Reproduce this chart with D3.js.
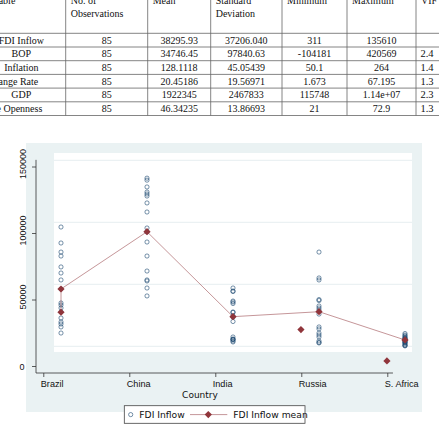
<!DOCTYPE html>
<html>
<head>
<meta charset="utf-8">
<script src="https://cdn.jsdelivr.net/npm/d3@7"></script>
<style>
  body { margin: 0; background: #fff; }
  svg { display: block; }
</style>
</head>
<body>
<div id="wrapper"></div>
<script>
// ---- table data (descriptive statistics) ----
const tableHeaders = [["Variable"], ["No. of", "Observations"], ["Mean"], ["Standard", "Deviation"], ["Minimum"], ["Maximum"], ["VIF"]]
const variables = ["FDI Inflow", "BOP", "Inflation", "Exchange Rate", "GDP", "Trade Openness"]
const obsCol = ["85", "85", "85", "85", "85", "85"]
const meanCol = ["38295.93", "34746.45", "128.1118", "20.45186", "1922345", "46.34235"]
const sdCol = ["37206.040", "97840.63", "45.05439", "19.56971", "2467833", "13.86693"]
const minCol = ["311", "-104181", "50.1", "1.673", "115748", "21"]
const maxCol = ["135610", "420569", "264", "67.195", "1.14e+07", "72.9"]
const vifCol = ["", "2.4", "1.4", "1.3", "2.3", "1.3"]

// ---- chart data (FDI inflow by country, 17 years each) ----
const countries = ["Brazil", "China", "India", "Russia", "S. Africa"]
const fdiBrazil = [96200, 83300, 76000, 72800, 64000, 59100, 53500, 46200, 34900, 33300, 30900, 27700, 22800, 19600, 18000, 15600, 10700]
const fdiChina = [135610, 134000, 128500, 124400, 122800, 121200, 115600, 108300, 95400, 92200, 84100, 72800, 60700, 53500, 52700, 47000, 40600]
const fdiIndia = [47000, 44600, 44200, 36500, 35700, 34500, 27700, 27300, 24400, 23600, 20000, 7500, 5900, 5500, 5500, 4300, 3500]
const fdiRussia = [76000, 55100, 53500, 37700, 36900, 32500, 30900, 29300, 26000, 15600, 14000, 10700, 9100, 7500, 4300, 3100, 2700]
const fdiSAfrica = [10300, 9100, 8300, 7500, 6700, 6300, 5900, 5100, 4700, 4300, 3500, 3100, 2700, 1900, 1000, 650, 311]
const fdiMean = [46200, 92400, 23900, 27900, 5100]
// stray mean markers drawn on the axis scale
const extraPos = [0, 2.79, 3.79]
const extraMean = [40400, 27400, 3800]
const yTicks = [0, 50000, 100000, 150000]

const fdiByCountry = [fdiBrazil, fdiChina, fdiIndia, fdiRussia, fdiSAfrica]

const width = 439
const height = 428

const svg = d3.select("#wrapper")
  .append("svg")
    .attr("width", width)
    .attr("height", height)

// ================= table =================
const colEdges = [-23, 65.7, 147.7, 210.7, 282, 347, 416, 470]
const rowScale = d3.scaleBand()
  .domain(variables)
  .range([33.3, 115.5])

const table = svg.append("g")
  .style("font-family", "'Liberation Serif', 'Times New Roman', serif")
  .style("font-size", "10px")
  .attr("fill", "#111")

// horizontal rules
table.selectAll("line.h")
  .data([33.3, ...variables.map(v => rowScale(v) + rowScale.bandwidth())])
  .join("line")
    .attr("x1", 0).attr("x2", width)
    .attr("y1", d => d).attr("y2", d => d)
    .attr("stroke", "#666")
    .attr("stroke-width", 0.8)

// vertical rules
table.selectAll("line.v")
  .data(colEdges.slice(1, 7))
  .join("line")
    .attr("x1", d => d).attr("x2", d => d)
    .attr("y1", -2).attr("y2", 115.5)
    .attr("stroke", "#666")
    .attr("stroke-width", 0.8)

// header (left aligned in each cell)
tableHeaders.forEach((lines, i) => {
  lines.forEach((t, j) => {
    table.append("text")
      .attr("x", colEdges[i] + 5)
      .attr("y", 4 + j * 13)
      .text(t)
  })
})

// first column labels
const rowAnchor = ["middle", "middle", "middle", "start", "middle", "start"]
table.selectAll("text.label")
  .data(variables)
  .join("text")
    .attr("x", (d, i) => rowAnchor[i] == "middle" ? (colEdges[0] + colEdges[1]) / 2 : colEdges[0] + 1)
    .attr("y", d => rowScale(d) + rowScale.bandwidth() / 2 + 3.5)
    .attr("text-anchor", (d, i) => rowAnchor[i])
    .text(d => d)

const valueCols = [obsCol, meanCol, sdCol, minCol, maxCol, vifCol]
valueCols.forEach((col, c) => {
  const cx = c == 5 ? colEdges[6] + 11 : (colEdges[c + 1] + colEdges[c + 2]) / 2
  table.selectAll(null)
    .data(col)
    .join("text")
      .attr("x", cx)
      .attr("y", (d, i) => rowScale(variables[i]) + rowScale.bandwidth() / 2 + 3.5)
      .attr("text-anchor", "middle")
      .style("font-size", c == 5 ? "10.5px" : null)
      .text(d => d)
})

// ================= chart =================
const chart = svg.append("g")
  .style("font-family", "'DejaVu Sans', sans-serif")

// graph region and plot region
chart.append("rect")
  .attr("x", 26).attr("y", 143)
  .attr("width", 396).attr("height", 269)
  .attr("fill", "#eaf2f3")

chart.append("rect")
  .attr("x", 54).attr("y", 153)
  .attr("width", 358).attr("height", 199)
  .attr("fill", "#fff")

// scales
const xScale = d3.scaleLinear()
  .domain([0, countries.length - 1])
  .range([61, 405])
const tickShift = -0.206

// the observations are drawn on the white plot region scale
const yScale = d3.scaleLinear()
  .domain([0, 150000])
  .range([346.3, 160.3])

// the axis carries its own (slightly larger) scale
const yAxisScale = d3.scaleLinear()
  .domain([0, 150000])
  .range([366, 166.5])

// gridlines
chart.selectAll("line.grid")
  .data(yTicks)
  .join("line")
    .attr("x1", 54).attr("x2", 412)
    .attr("y1", d => yScale(d)).attr("y2", d => yScale(d))
    .attr("stroke", "#e6eef0")
    .attr("stroke-width", 1)

// axes
const axisX0 = 36
const axisY0 = 373

const yAxis = chart.append("g")
  .attr("transform", `translate(${axisX0},0)`)
  .call(d3.axisLeft(yAxisScale).tickValues(yTicks).tickSize(4).tickFormat(d3.format("d")))
yAxis.select(".domain").remove()
yAxis.selectAll(".tick line").attr("stroke", "#333").attr("stroke-width", 0.8)
yAxis.selectAll(".tick text")
  .attr("fill", "#111")
  .style("font-size", "9px")
  .attr("x", null).attr("dy", null)
  .attr("text-anchor", "middle")
  .attr("transform", d => d == 0 ? "translate(-14,3)" : "translate(-10,-3) rotate(-90)")

chart.append("line")
  .attr("x1", axisX0).attr("x2", axisX0)
  .attr("y1", yAxisScale(155000)).attr("y2", axisY0)
  .attr("stroke", "#333").attr("stroke-width", 0.8)

const xAxis = chart.append("g")
  .attr("transform", `translate(0,${axisY0})`)
  .call(d3.axisBottom(xScale)
    .tickValues(d3.range(countries.length).map(i => i + tickShift))
    .tickSize(4)
    .tickFormat((d, i) => countries[i]))
xAxis.select(".domain").remove()
xAxis.selectAll(".tick line").attr("stroke", "#333").attr("stroke-width", 0.8)
xAxis.selectAll(".tick text")
  .attr("fill", "#111")
  .style("font-size", "9.1px")
  .attr("text-anchor", "start")
  .attr("x", -3)
  .attr("y", 8)
  .attr("dy", "0.71em")

chart.append("line")
  .attr("x1", axisX0).attr("x2", xScale(3.86))
  .attr("y1", axisY0).attr("y2", axisY0)
  .attr("stroke", "#333").attr("stroke-width", 0.8)

chart.append("text")
  .attr("x", 200)
  .attr("y", 398)
  .attr("text-anchor", "middle")
  .attr("fill", "#111")
  .style("font-size", "9px")
  .text("Country")

// observations
const navy = "#1a476f"
const maroon = "#90353b"

const points = fdiByCountry.flatMap((vals, i) => vals.map(v => ({ i, v })))
chart.append("g")
  .selectAll("circle")
  .data(points)
  .join("circle")
    .attr("cx", d => xScale(d.i))
    .attr("cy", d => yScale(d.v))
    .attr("r", 2.1)
    .attr("fill", "none")
    .attr("stroke", navy)
    .attr("stroke-width", 0.6)

// mean line
const meanPts = fdiMean.map((v, i) => [xScale(i), yScale(v)])
const linePts = [[xScale(extraPos[0]), yAxisScale(extraMean[0])], ...meanPts]
chart.append("path")
  .attr("d", d3.line()(linePts))
  .attr("fill", "none")
  .attr("stroke", maroon)
  .attr("stroke-opacity", 0.75)
  .attr("stroke-width", 0.7)

const diamond = d3.symbol().type(d3.symbolSquare).size(26)
chart.append("g")
  .selectAll("path")
  .data(meanPts.concat(extraMean.map((v, i) => [xScale(extraPos[i]), yAxisScale(v)])))
  .join("path")
    .attr("d", diamond)
    .attr("transform", d => `translate(${d[0]},${d[1]}) rotate(45)`)
    .attr("fill", maroon)

// legend
const legend = chart.append("g")
legend.append("rect")
  .attr("x", 124.3).attr("y", 405.7)
  .attr("width", 180.7).attr("height", 17.6)
  .attr("fill", "#fff")
  .attr("stroke", "#444")
  .attr("stroke-width", 0.8)
legend.append("circle")
  .attr("cx", 130.7).attr("cy", 414.6)
  .attr("r", 2.1)
  .attr("fill", "none")
  .attr("stroke", navy)
  .attr("stroke-width", 0.6)
legend.append("text")
  .attr("x", 139.3).attr("y", 418)
  .attr("fill", "#111")
  .style("font-size", "9.2px")
  .text("FDI Inflow")
legend.append("line")
  .attr("x1", 190).attr("x2", 227.3)
  .attr("y1", 414.6).attr("y2", 414.6)
  .attr("stroke", maroon)
  .attr("stroke-opacity", 0.75)
  .attr("stroke-width", 0.7)
legend.append("path")
  .attr("d", diamond)
  .attr("transform", "translate(208.3,414.6) rotate(45)")
  .attr("fill", maroon)
legend.append("text")
  .attr("x", 233.3).attr("y", 418)
  .attr("fill", "#111")
  .style("font-size", "9.2px")
  .text("FDI Inflow mean")
</script>
</body>
</html>
